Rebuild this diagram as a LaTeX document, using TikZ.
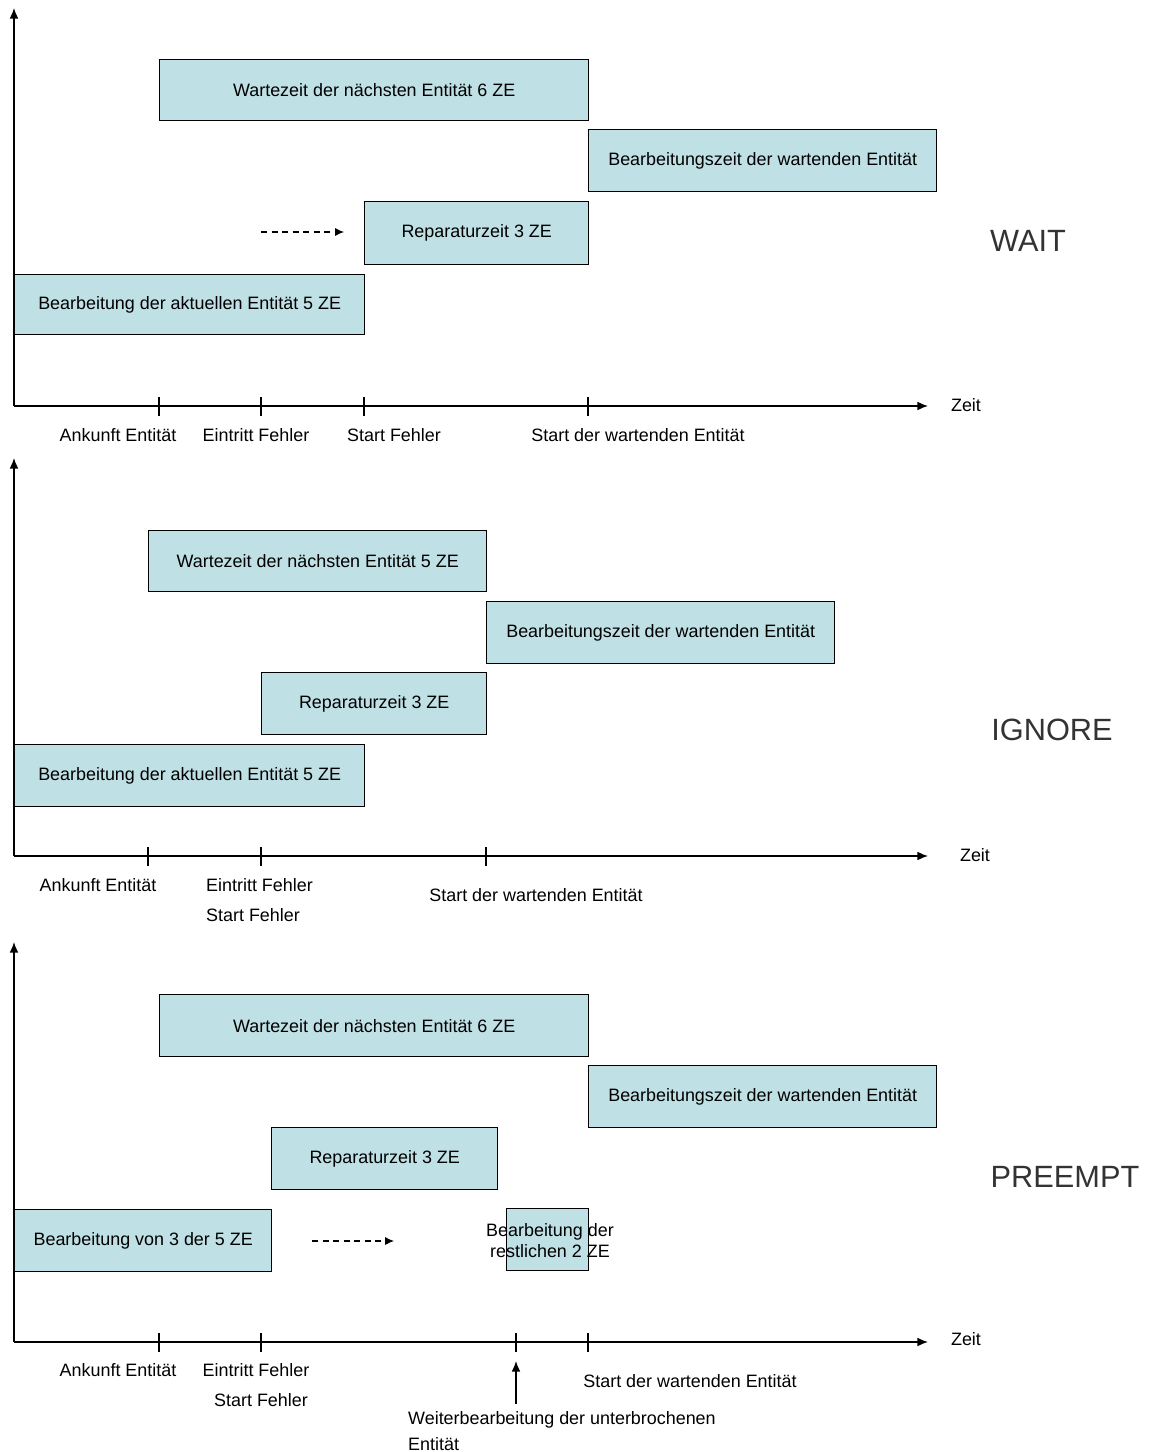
\documentclass[tikz,border=0pt]{standalone}
\usepackage{fontspec}
\setmainfont{Liberation Sans}
\usetikzlibrary{arrows.meta,positioning}
\definecolor{barfill}{RGB}{191,224,228}
\tikzset{every node/.append style={font=\fontsize{10.2}{12}\selectfont}}
\tikzset{zebox/.style 2 args={draw, fill=barfill, line width=.8pt, anchor=north west,
    inner sep=0pt, minimum width=#1*0.02cm, minimum height=#2*0.02cm}}
\tikzset{axarrow/.style={line width=.8pt,-{Latex[length=6pt,width=5pt]}}}
\tikzset{hint/.style={line width=.6pt,dash pattern=on 3.5pt off 2.5pt,-{Latex[length=5pt,width=4.5pt]}}}
\tikzset{modus/.style={font=\fontsize{17.5}{20}\selectfont, text=black!80}}

\begin{document}
\begin{tikzpicture}[x=0.02cm,y=-0.02cm]
  \useasboundingbox (0,0) rectangle (1152,1452);
  % ---------- WAIT
  \coordinate (o1) at (14,406);
  \draw[axarrow] (o1) -- (14,8);
  \draw[axarrow] (o1) -- (928,406);
  \foreach \x in {159,261,364,588}
    \draw[line width=.8pt] (\x,397) -- (\x,416);
  \node (zeit1) at (966,405) {Zeit};
  \node (ank1) at (118,435) {Ankunft Entität};
  \node (ein1) at (256,435) {Eintritt Fehler};
  \node (sf1) at (394,435) {Start Fehler};
  \node (sw1) at (638,435) {Start der wartenden Entität};
  \node[zebox={429}{61}] (wart1) at (159,59) {Wartezeit der nächsten Entität 6 ZE};
  \node[zebox={348}{62}] (bearb1) at (588,129) {Bearbeitungszeit der wartenden Entität};
  \node[zebox={224}{63}] (rep1) at (364,201) {Reparaturzeit 3 ZE};
  \node[zebox={350}{60}] (akt1) at (14,274) {Bearbeitung der aktuellen Entität 5 ZE};
  \coordinate (d1a) at (261,232);
  \coordinate (d1b) at (344,232);
  \draw[hint] (d1a) -- (d1b);
  \node[modus] (wait) at (1028,241) {WAIT};
  % ---------- IGNORE
  \coordinate (o2) at (14,856);
  \draw[axarrow] (o2) -- (14,458);
  \draw[axarrow] (o2) -- (928,856);
  \foreach \x in {148,261,486}
    \draw[line width=.8pt] (\x,847) -- (\x,866);
  \node (zeit2) at (975,855) {Zeit};
  \node (ank2) at (98,885) {Ankunft Entität};
  \node[anchor=west] (ein2) at (200,885) {Eintritt Fehler};
  \node[anchor=west] (sf2) at (200,915) {Start Fehler};
  \node (sw2) at (536,895) {Start der wartenden Entität};
  \node[zebox={338}{61}] (wart2) at (148,530) {Wartezeit der nächsten Entität 5 ZE};
  \node[zebox={348}{62}] (bearb2) at (486,601) {Bearbeitungszeit der wartenden Entität};
  \node[zebox={225}{62}] (rep2) at (261,672) {Reparaturzeit 3 ZE};
  \node[zebox={350}{62}] (akt2) at (14,744) {Bearbeitung der aktuellen Entität 5 ZE};
  \node[modus] (ignore) at (1052,730) {IGNORE};
  % ---------- PREEMPT
  \coordinate (o3) at (14,1342);
  \draw[axarrow] (o3) -- (14,942);
  \draw[axarrow] (o3) -- (928,1342);
  \foreach \x in {159,261,516,588}
    \draw[line width=.8pt] (\x,1333) -- (\x,1352);
  \node (zeit3) at (966,1339) {Zeit};
  \node (ank3) at (118,1370) {Ankunft Entität};
  \node (ein3) at (256,1370) {Eintritt Fehler};
  \node (sf3) at (261,1400) {Start Fehler};
  \node (sw3) at (690,1381) {Start der wartenden Entität};
  \node[anchor=west] (weiter) at (402,1420) {Weiterbearbeitung der unterbrochenen};
  \node[anchor=west] (weiter2) at (402,1444) {Entität};
  \coordinate (u3a) at (516,1404);
  \coordinate (u3b) at (516,1361);
  \draw[axarrow] (u3a) -- (u3b);
  \node[zebox={429}{62}] (wart3) at (159,994) {Wartezeit der nächsten Entität 6 ZE};
  \node[zebox={348}{62}] (bearb3) at (588,1065) {Bearbeitungszeit der wartenden Entität};
  \node[zebox={226}{62}] (rep3) at (271,1127) {Reparaturzeit 3 ZE};
  \node[zebox={257}{62}] (akt3) at (14,1209) {Bearbeitung von 3 der 5 ZE};
  \node[zebox={82}{62}] (rest) at (506,1208) {};
  \node[align=center, inner sep=0pt] (resttxt) at (550,1241) {Bearbeitung der\\restlichen 2 ZE};
  \coordinate (d3a) at (312,1241);
  \coordinate (d3b) at (394,1241);
  \draw[hint] (d3a) -- (d3b);
  \node[modus] (preempt) at (1065,1177) {PREEMPT};
\end{tikzpicture}
\end{document}
